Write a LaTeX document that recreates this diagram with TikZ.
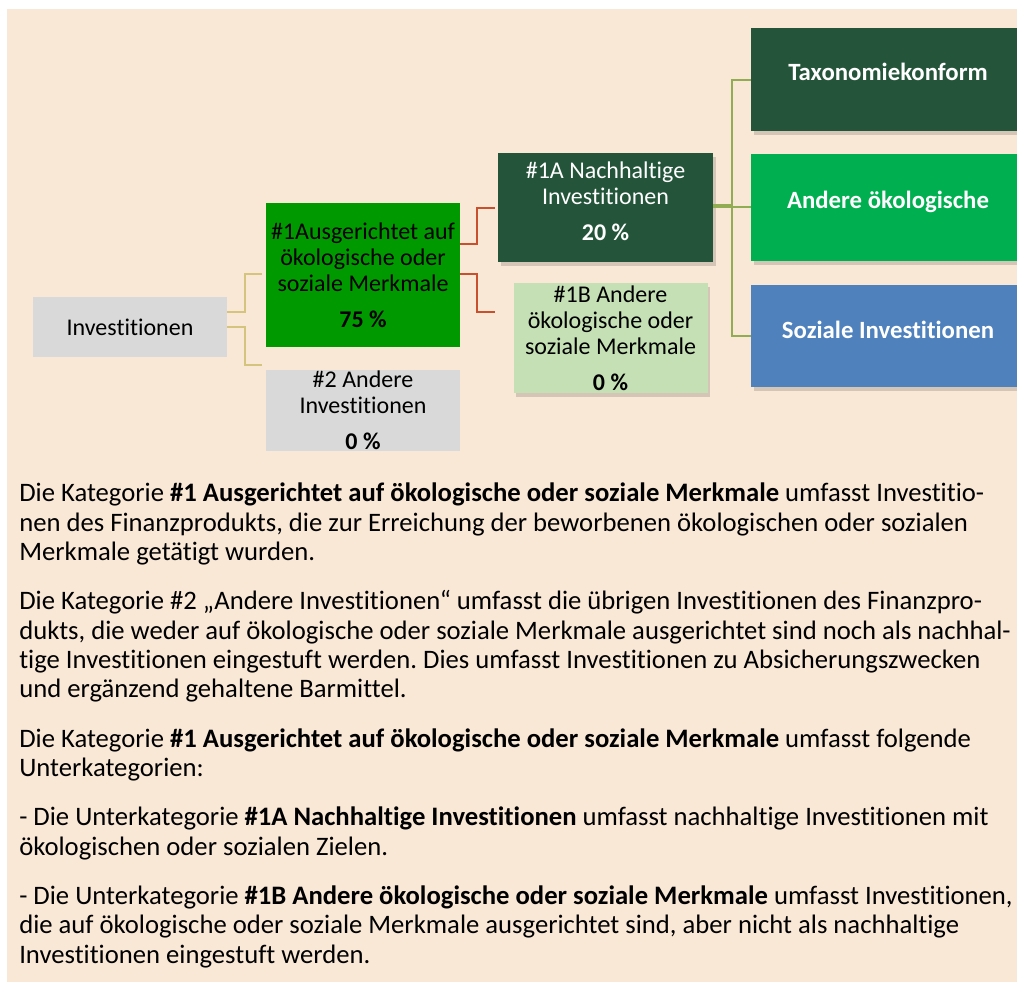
\documentclass[tikz,border=0pt]{standalone}
\usepackage{fontspec}
\setmainfont{Carlito}[RawFeature={-liga}]
\usetikzlibrary{calc,shadows}
\definecolor{peach}{HTML}{FAE8D7}
\definecolor{lgrey}{HTML}{D9D9D9}
\definecolor{gone}{HTML}{009900}
\definecolor{dgreen}{HTML}{24553A}
\definecolor{bgreen}{HTML}{00B050}
\definecolor{sblue}{HTML}{4F81BD}
\definecolor{lgreen}{HTML}{C5E0B4}
\definecolor{tanc}{HTML}{D4C47E}
\definecolor{redc}{HTML}{C8502F}
\definecolor{olivec}{HTML}{92AC54}
\frenchspacing
\begin{document}
\begin{tikzpicture}[x=0.75pt,y=-0.75pt,
  box/.style={rectangle, inner sep=0pt, align=center, font=\fontsize{18pt}{19.5pt}\selectfont},
  rtext/.style={inner sep=0pt, text=white, font=\bfseries\fontsize{18.6pt}{19.5pt}\selectfont},
  shad/.style={drop shadow={shadow xshift=2pt, shadow yshift=-3pt, opacity=0.15, fill=black}},
  conn/.style={line width=1.5pt},
  tanline/.style={conn, draw=tanc},
  redline/.style={conn, draw=redc},
  oline/.style={conn, draw=olivec}]
\useasboundingbox (0,0) rectangle (1017,982);
\fill[white] (0,0) rectangle (1017,982);
\fill[peach] (7,9) rectangle (1017,982);

% boxes
\node[box, fill=lgrey, minimum width=145.5pt, minimum height=44.75pt] (inv) at (130,327) {Investitionen};
\node[box, fill=gone, minimum width=145.5pt, minimum height=108pt] (n1) at (363,275)
  {\#1Ausgerichtet auf\\ökologische oder\\soziale Merkmale\\[7.5pt]\textbf{75 \%}};
\node[box, fill=lgrey, minimum width=145.5pt, minimum height=60.5pt] (n2) at (363,410.3)
  {\#2 Andere\\Investitionen\\[7pt]\textbf{0 \%}};
\node[box, fill=dgreen, shad, minimum width=161.25pt, minimum height=81.3pt,
  label={[box, text=white, yshift=4.9pt]center:{\#1A Nachhaltige\\Investitionen\\[7.5pt]\textbf{20 \%}}}] (n1a) at (605.5,207.5) {};
\node[box, fill=lgreen, shad, minimum width=145.5pt, minimum height=82pt] (n1b) at (610.5,338)
  {\#1B Andere\\ökologische oder\\soziale Merkmale\\[7.5pt]\textbf{0 \%}};
\node[box, fill=dgreen, shad, minimum width=205.5pt, minimum height=76.8pt,
  label={[rtext, yshift=5.5pt]center:Taxonomiekonform}] (tax) at (888,79.5) {};
\node[box, fill=bgreen, shad, minimum width=205.5pt, minimum height=79.8pt,
  label={[rtext, yshift=4pt]center:Andere ökologische}] (ando) at (888,207.5) {};
\node[box, fill=sblue, shad, minimum width=205.5pt, minimum height=76.3pt,
  label={[rtext, yshift=4.5pt]center:Soziale Investitionen}] (soz) at (888,335.9) {};

% connectors
\draw[tanline] ($(inv.east)+(0,-15)$) -- ++(18,0) |- ($(n1.west)+(-4,-1)$);
\draw[tanline] (inv.east) -- ++(18,0) |- ($(n2.west)+(-4,-45.5)$);
\draw[redline] ($(n1.east)+(0,-30.7)$) -- ++(16.7,0) |- ($(n1a.west)+(-3,0)$);
\draw[redline] ($(n1.east)+(0,-0.7)$) -- ++(16.7,0) |- ($(n1b.west)+(-18.5,-26)$);
\draw[oline] ($(n1a.east)+(0,-2.2)$) -- ++(19,0) |- (tax.west);
\draw[oline] ($(n1a.east)+(0,-0.8)$) -- (ando.west |- {$(n1a.east)+(0,-0.8)$});
\draw[oline] ($(n1a.east)+(0,-2.2)$) -- ++(19,0) |- (soz.west);

% explanatory text
\node[anchor=base west, inner sep=0pt, font=\fontsize{20pt}{22pt}\selectfont] (body) at (19,501.7)
{\parbox[t]{800pt}{\setlength{\parskip}{15pt}\raggedright
Die Kategorie \textbf{\#1 Ausgerichtet auf ökologische oder soziale Merkmale} umfasst Investitio-\\nen des Finanzprodukts, die zur Erreichung der beworbenen ökologischen oder sozialen\\Merkmale getätigt wurden.\par
Die Kategorie \#2 „Andere Investitionen“ umfasst die übrigen Investitionen des Finanzpro-\\dukts, die weder auf ökologische oder soziale Merkmale ausgerichtet sind noch als nachhal-\\tige Investitionen eingestuft werden. Dies umfasst Investitionen zu Absicherungszwecken\\und ergänzend gehaltene Barmittel.\par
Die Kategorie \textbf{\#1 Ausgerichtet auf ökologische oder soziale Merkmale} umfasst folgende\\Unterkategorien:\par
- Die Unterkategorie \textbf{\#1A Nachhaltige Investitionen} umfasst nachhaltige Investitionen mit\\ökologischen oder sozialen Zielen.\par
- Die Unterkategorie \textbf{\#1B Andere ökologische oder soziale Merkmale} umfasst Investitionen,\\die auf ökologische oder soziale Merkmale ausgerichtet sind, aber nicht als nachhaltige\\Investitionen eingestuft werden.\par}};
\end{tikzpicture}
\end{document}
